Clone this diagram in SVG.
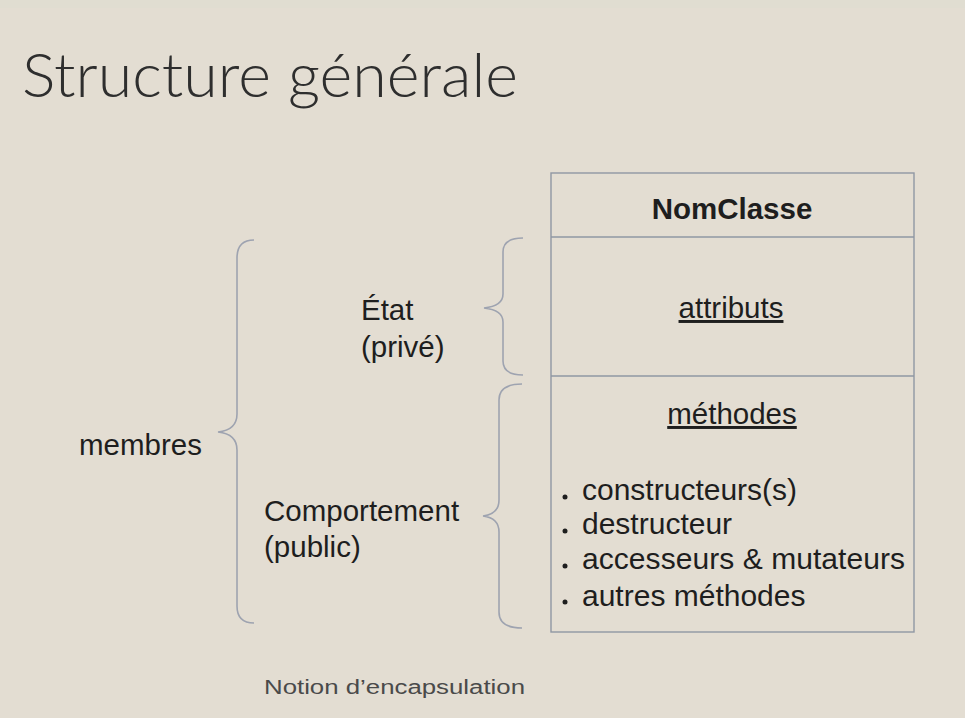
<svg xmlns="http://www.w3.org/2000/svg" width="965" height="718" viewBox="0 0 965 718">
<style>
.t{font-family:"Liberation Sans",Arial,sans-serif;fill:#1e1e1e;font-size:29.5px}
.li{font-size:30px}
.brace{fill:none;stroke:#9ea3b0;stroke-width:1.6}
.box{fill:none;stroke:#8f97a3;stroke-width:1.4}
.dot{fill:#1e1e1e}
</style>
<rect x="0" y="0" width="965" height="718" fill="#e3ddd2"/>
<rect x="0" y="0" width="965" height="8" fill="#e0ddd1"/>
<text x="22" y="97" style="font-family:Lato,'Liberation Sans',sans-serif;font-weight:300;font-size:62px;fill:#2e2e2e" textLength="496" lengthAdjust="spacingAndGlyphs">Structure générale</text>
<g id="classe">
<rect class="box" x="551" y="173" width="363" height="459"/>
<line class="box" x1="551" y1="237" x2="914" y2="237"/>
<line class="box" x1="551" y1="376" x2="914" y2="376"/>
<text class="t" x="732" y="219" text-anchor="middle" font-weight="bold">NomClasse</text>
<text class="t" x="731" y="318" text-anchor="middle" text-decoration="underline">attributs</text>
<text class="t" x="732" y="424" text-anchor="middle" text-decoration="underline">méthodes</text>
<circle class="dot" cx="565" cy="497" r="2.5"/>
<circle class="dot" cx="565" cy="531" r="2.5"/>
<circle class="dot" cx="565" cy="566" r="2.5"/>
<circle class="dot" cx="565" cy="602" r="2.5"/>
<text class="t li" x="582" y="500">constructeurs(s)</text>
<text class="t li" x="582" y="534">destructeur</text>
<text class="t li" x="582" y="569" textLength="323">accesseurs &amp; mutateurs</text>
<text class="t li" x="582" y="606">autres méthodes</text>
</g>
<g id="etat">
<text class="t" x="361" y="320">État</text>
<text class="t" x="361" y="357">(privé)</text>
</g>
<g id="comportement">
<text class="t" x="264" y="521">Comportement</text>
<text class="t" x="264" y="557">(public)</text>
</g>
<g id="membres">
<text class="t" x="79" y="455">membres</text>
</g>
<g id="connectors">
<path class="brace" d="M254,240 Q237,240 237,258 L237,414 Q237,430 218,432 Q237,434 237,450 L237,606 Q237,623 254,623"/>
<path class="brace" d="M523,238 Q503,238 503,252 L503,294 Q503,306 484,308 Q503,310 503,322 L503,361 Q503,375 523,375"/>
<path class="brace" d="M522,384 Q499,384 499,400 L499,500 Q499,514 483,516 Q499,518 499,532 L499,612 Q499,628 522,628"/>
</g>
<text x="264" y="694" style="font-family:'Liberation Sans',Arial,sans-serif;font-size:20px;fill:#4a4a4a" textLength="261" lengthAdjust="spacingAndGlyphs">Notion d’encapsulation</text>
</svg>
